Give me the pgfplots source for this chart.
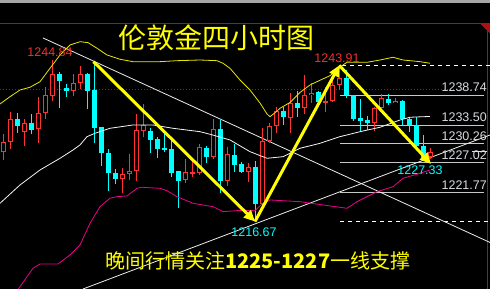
\documentclass[border=0pt]{standalone}
\usepackage{pgfplots}
\pgfplotsset{compat=1.18}
\usepackage{pgfplotstable}
\usepackage{fontspec}
\setmainfont{Liberation Sans}
\newfontfamily\cjk{Noto Sans CJK SC}
\usetikzlibrary{arrows.meta}
\definecolor{upred}{HTML}{FF3232}
\definecolor{dncyan}{HTML}{00FFFF}
\definecolor{lvl}{HTML}{C8C8C8}
\definecolor{lbl}{HTML}{D8DCE0}
\definecolor{framered}{HTML}{B01010}
\definecolor{bandyel}{HTML}{E8E800}
\definecolor{arrowyel}{HTML}{FFFF00}
\definecolor{lblred}{HTML}{F03030}

% up (red, hollow) candles: x open high low close
\pgfplotstableread{
x o h l c
3.3 1228.84 1231.93 1227.39 1230.48
10.3 1230.48 1235.82 1229.31 1234.50
24.3 1232.33 1234.55 1229.88 1233.80
38.3 1232.75 1238.44 1230.41 1235.54
45.3 1235.54 1240.19 1234.55 1238.74
52.3 1238.62 1244.84 1237.74 1242.41
73.3 1239.49 1242.41 1238.57 1240.78
80.3 1240.78 1243.86 1239.74 1242.41
122.3 1224.12 1225.94 1221.57 1224.89
129.3 1224.89 1228.43 1223.89 1225.47
136.3 1225.47 1235.42 1223.77 1232.63
143.3 1232.50 1237.17 1231.35 1233.50
185.3 1223.89 1227.56 1223.42 1225.24
192.3 1224.99 1226.98 1224.36 1225.24
199.3 1225.17 1230.18 1224.77 1229.60
213.3 1227.96 1234.55 1227.56 1232.75
227.3 1223.72 1229.60 1222.90 1228.43
248.3 1225.34 1226.81 1223.60 1226.11
262.3 1219.70 1232.92 1219.23 1230.71
269.3 1230.71 1233.80 1230.30 1233.33
276.3 1233.33 1236.70 1232.05 1235.95
290.3 1234.67 1239.04 1232.10 1237.29
304.3 1236.42 1242.23 1235.42 1238.74
311.3 1238.74 1240.78 1237.34 1239.14
325.3 1237.40 1240.14 1235.82 1237.74
332.3 1237.69 1242.11 1237.57 1240.49
339.3 1240.49 1243.91 1239.61 1241.66
374.3 1233.90 1236.70 1232.50 1236.42
381.3 1236.42 1238.86 1236.12 1238.16
395.3 1237.29 1238.16 1237.29 1237.69
430.3 1227.96 1229.43 1227.56 1228.73
}\upcandles

% down (cyan, filled) candles: x open high low close
\pgfplotstableread{
x o h l c
17.3 1234.50 1235.65 1232.16 1233.38
31.3 1233.80 1235.42 1231.93 1232.63
59.3 1242.41 1242.71 1236.52 1241.24
66.3 1239.91 1240.66 1238.44 1239.49
87.3 1242.41 1242.53 1236.29 1239.49
94.3 1239.61 1244.56 1230.30 1233.03
101.3 1233.10 1233.15 1226.39 1228.56
108.3 1228.56 1229.31 1222.02 1225.06
115.3 1225.06 1225.81 1223.19 1224.12
150.3 1232.50 1232.92 1228.66 1230.88
157.3 1231.05 1231.46 1227.79 1229.36
164.3 1229.54 1231.88 1228.73 1229.19
171.3 1229.31 1231.18 1224.36 1225.17
178.3 1225.47 1225.47 1219.05 1223.77
206.3 1229.54 1229.83 1226.92 1227.96
220.3 1232.75 1234.37 1221.57 1223.72
234.3 1228.26 1230.18 1225.24 1226.51
241.3 1226.69 1226.98 1225.06 1225.34
255.3 1226.22 1227.26 1216.67 1219.70
283.3 1236.00 1236.70 1233.50 1234.85
297.3 1237.29 1239.49 1234.95 1236.42
318.3 1239.21 1239.44 1236.99 1237.47
346.3 1241.66 1243.11 1238.16 1238.74
353.3 1238.74 1238.74 1234.20 1234.55
360.3 1234.67 1237.99 1232.33 1234.20
367.3 1234.37 1235.07 1232.63 1233.90
388.3 1237.99 1238.86 1236.99 1237.29
402.3 1237.69 1237.87 1233.50 1234.55
409.3 1234.55 1234.95 1232.33 1233.50
416.3 1233.50 1234.95 1229.60 1229.83
423.3 1229.83 1231.75 1227.33 1227.68
}\dncandles

\begin{document}
\begin{tikzpicture}
\begin{axis}[width=490pt,height=289pt,scale only axis,hide axis,
  xmin=0,xmax=490,ymin=1204.85,ymax=1255.33,clip=true]
\fill[black] (rel axis cs:0,0) rectangle (rel axis cs:1,1);
\fill[gray!70] (axis cs:0,1254.81) rectangle (axis cs:490,1256);
% frame lines
\draw[framered, line width=1pt] (axis cs:0,1251.26) -- (axis cs:490,1251.26);
\draw[framered, line width=1pt] (axis cs:487,1251.26) -- (axis cs:487,1204);
\fill[framered] (axis cs:480,1251.26) -- (axis cs:490,1251.26) -- (axis cs:490,1249.52) -- cycle;
\draw[framered, line width=0.8pt, dash pattern=on 1pt off 2pt] (axis cs:0,1239.74) -- (axis cs:486,1239.74);

% horizontal levels
\addplot[lvl, line width=0.9pt] coordinates {(340,1238.74) (484,1238.74)};
\addplot[lvl, line width=0.9pt] coordinates {(340,1233.50) (484,1233.50)};
\addplot[lvl, line width=0.9pt] coordinates {(340,1230.26) (484,1230.26)};
\addplot[lvl, line width=0.9pt] coordinates {(340,1227.02) (484,1227.02)};
\addplot[lvl, line width=0.9pt] coordinates {(340,1221.77) (484,1221.77)};
\addplot[white, line width=0.9pt, dash pattern=on 4pt off 4pt] coordinates {(342,1243.91) (490,1243.91)};
\addplot[white, line width=0.9pt, dash pattern=on 4pt off 4pt] coordinates {(340,1216.67) (490,1216.67)};
\addplot[arrowyel, line width=0.9pt] coordinates {(472,1228.84) (487,1228.84)};

% trend lines
\addplot[white!85!gray, line width=0.8pt] coordinates {(43,1248.70) (490,1212.98)};
\addplot[white!85!gray, line width=0.8pt] coordinates {(83,1204.85) (490,1231.75)};

% candles: down (cyan)
\addplot[draw=none, mark=none, error bars/.cd, y dir=plus, y explicit, error mark=none,
  error bar style={draw=dncyan, line width=1pt}]
  table[x=x, y=l, y error plus expr=\thisrow{h}-\thisrow{l}] {\dncandles};
\addplot[draw=none, mark=none, error bars/.cd, y dir=plus, y explicit, error mark=none,
  error bar style={draw=dncyan, line width=5pt}]
  table[x=x, y=c, y error plus expr=\thisrow{o}-\thisrow{c}] {\dncandles};
% candles: up (red hollow)
\addplot[draw=none, mark=none, error bars/.cd, y dir=plus, y explicit, error mark=none,
  error bar style={draw=upred, line width=1pt}]
  table[x=x, y=l, y error plus expr=\thisrow{h}-\thisrow{l}] {\upcandles};
\addplot[draw=none, mark=none, error bars/.cd, y dir=plus, y explicit, error mark=none,
  error bar style={draw=upred, line width=5pt}]
  table[x=x, y=o, y error plus expr=\thisrow{c}-\thisrow{o}] {\upcandles};
\addplot[draw=none, mark=none, error bars/.cd, y dir=plus, y explicit, error mark=none,
  error bar style={draw=black, line width=3pt}]
  table[x=x, y expr=\thisrow{o}+0.175, y error plus expr={max(\thisrow{c}-\thisrow{o}-0.35,0)}] {\upcandles};

% Bollinger bands
\addplot[bandyel, line width=0.8pt] coordinates {
(0,1237.17) (10,1238.44) (20,1239.61) (30,1240.09) (40,1241.06) (50,1243.40)
(60,1245.73) (70,1247.47) (80,1248.05) (88,1247.88) (97,1246.90) (107,1245.73)
(120,1244.98) (133,1244.56) (160,1244.56) (177,1244.73) (200,1244.85) (217,1244.73)
(223,1244.28) (230,1243.40) (240,1241.36) (250,1239.61) (260,1237.34) (267,1235.42)
(270,1234.95) (276,1235.77) (280,1236.42) (290,1237.43) (300,1239.18) (310,1240.49)
(320,1241.31) (330,1242.11) (337,1243.11) (342,1243.86) (347,1244.45) (367,1244.45)
(380,1244.85) (393,1245.33) (403,1244.85) (420,1244.56) (430,1244.28)};
\addplot[white!92!gray, line width=0.8pt] coordinates {
(0,1219.82) (20,1223.02) (40,1225.64) (60,1227.68) (73,1229.13) (80,1230.01)
(87,1231.46) (95,1232.05) (110,1232.92) (133,1233.50) (153,1233.50) (173,1232.92)
(200,1232.33) (210,1231.88) (230,1230.88) (250,1228.84) (267,1227.68) (283,1227.96)
(300,1229.43) (320,1230.30) (340,1231.46) (360,1232.33) (380,1233.10) (400,1234.37)
(410,1234.85) (430,1234.99)};
\addplot[magenta, line width=0.8pt] coordinates {
(18.3,1204.85) (33,1208.47) (40,1209.22) (58,1209.22) (70,1210.79) (80,1212.54)
(90,1216.33) (100,1219.23) (110,1220.70) (117,1220.98) (127,1221.10) (137,1222.44)
(142,1222.62) (160,1222.44) (167,1222.02) (177,1220.98) (193,1219.82) (213,1219.23)
(223,1218.36) (240,1218.57) (255,1218.53) (262,1219.70) (270,1220.40) (300,1220.10)
(323,1219.53) (347,1218.95) (357,1220.10) (377,1221.85) (393,1222.72) (403,1224.19)
(420,1225.06) (430,1225.64)};

% arrows
\addplot[arrowyel, line width=3pt, -{Triangle[length=11pt,width=10pt]}] coordinates {(93.5,1244.56) (255,1216.64)};
\addplot[arrowyel, line width=3pt, -{Triangle[length=11pt,width=10pt]}] coordinates {(255,1216.64) (339.3,1243.91)};
\addplot[arrowyel, line width=3pt, -{Triangle[length=11pt,width=10pt]}] coordinates {(339.3,1243.91) (431,1226.69)};

% labels
\node[text=lblred, font=\fontsize{12.5}{14}\selectfont, inner sep=0pt] at (axis cs:50,1246.25) {1244.84};
\node[text=lblred, font=\fontsize{12.5}{14}\selectfont, inner sep=0pt] at (axis cs:337,1245.20) {1243.91};
\node[text=dncyan, font=\fontsize{12.5}{14}\selectfont, inner sep=0pt] at (axis cs:254,1214.81) {1216.67};
\node[text=dncyan, font=\fontsize{12.5}{14}\selectfont, inner sep=0pt] at (axis cs:420,1225.55) {1227.33};
\node[text=lbl, font=\fontsize{12.5}{14}\selectfont, inner sep=0pt, anchor=east] at (axis cs:487,1240.05) {1238.74};
\node[text=lbl, font=\fontsize{12.5}{14}\selectfont, inner sep=0pt, anchor=east] at (axis cs:487,1234.90) {1233.50};
\node[text=lbl, font=\fontsize{12.5}{14}\selectfont, inner sep=0pt, anchor=east] at (axis cs:487,1231.58) {1230.26};
\node[text=lbl, font=\fontsize{12.5}{14}\selectfont, inner sep=0pt, anchor=east] at (axis cs:487,1228.26) {1227.02};
\node[text=lbl, font=\fontsize{12.5}{14}\selectfont, inner sep=0pt, anchor=east] at (axis cs:487,1222.93) {1221.77};

\node[text=arrowyel, font={\cjk\fontsize{28}{30}\selectfont}, inner sep=0pt] at (axis cs:216.5,1248.70) {伦敦金四小时图};
\node[text=arrowyel, font={\cjk\fontsize{20}{22}\selectfont}, inner sep=0pt, anchor=west] at (axis cs:105,1209.74) {晚间行情关注{\bfseries 1225-1227}一线支撑};
\end{axis}
\end{tikzpicture}
\end{document}
